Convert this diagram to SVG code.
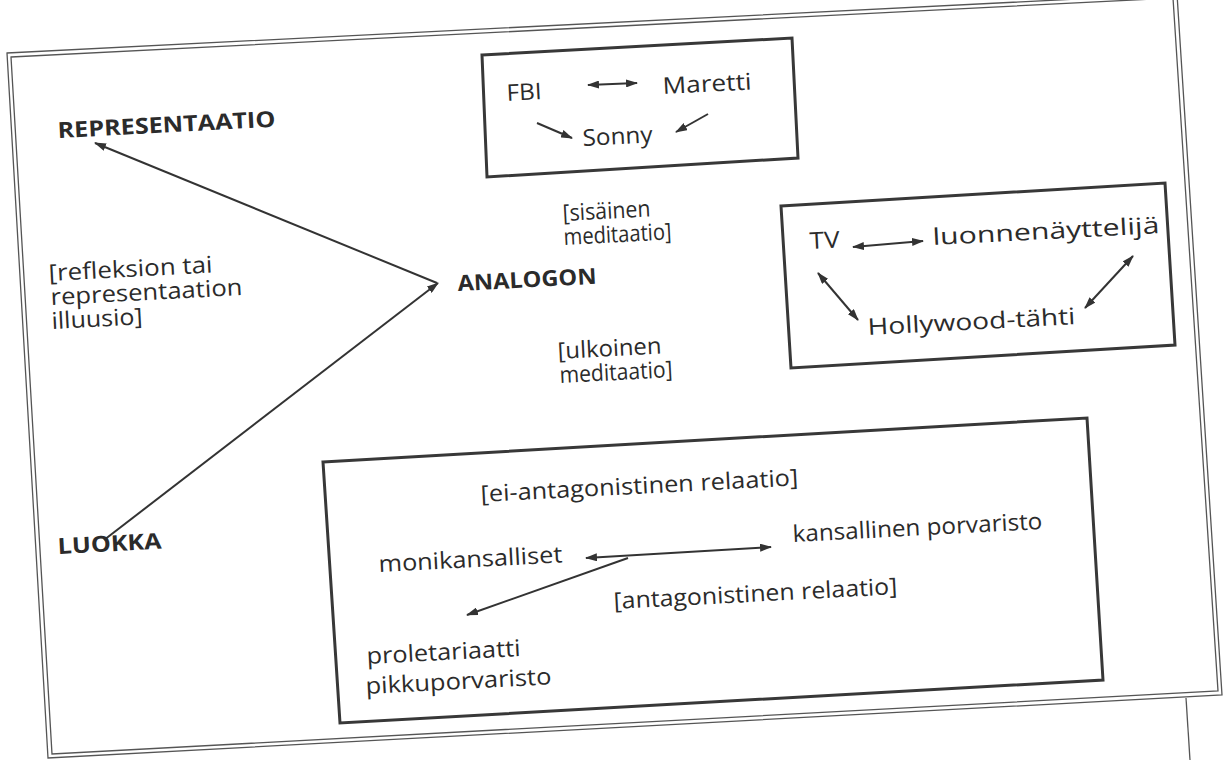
<svg xmlns="http://www.w3.org/2000/svg" width="1224" height="760" viewBox="0 0 1224 760">
<style>
.t{font-family:"Open Sans","DejaVu Sans",sans-serif;font-size:23px;fill:#2b2b2b}
.b{font-weight:bold;font-size:22px}
.box{fill:none;stroke:#383838;stroke-width:3}
.frame{fill:none;stroke:#555;stroke-width:1.3}
.c{fill:none;stroke:#333;stroke-width:2}
.s{marker-end:url(#ah)}
.d{marker-start:url(#ah);marker-end:url(#ah)}
</style>
<defs>
<marker id="ah" viewBox="0 0 12 8" refX="11" refY="4" markerWidth="12" markerHeight="8" markerUnits="userSpaceOnUse" orient="auto-start-reverse">
<path d="M0,0 L12,4 L0,8 z" fill="#333"/>
</marker>
</defs>
<rect width="1224" height="760" fill="#fff"/>
<g id="frame">
<polygon class="frame" points="7,53 1177,-6 1222,695 48,758"/>
<polygon class="frame" points="11,57 1173,-2 1218,691 52,754"/>
<line class="frame" x1="1186" y1="698" x2="1190" y2="760"/>
</g>
<g id="connectors">
<line class="c s" x1="437" y1="283" x2="95" y2="143"/>
<line class="c s" x1="104" y1="540" x2="438" y2="283"/>
<line class="c d" x1="588" y1="85" x2="637" y2="83"/>
<line class="c s" x1="537" y1="123" x2="572" y2="138"/>
<line class="c s" x1="708" y1="114" x2="676" y2="132"/>
<line class="c d" x1="853" y1="247" x2="923" y2="241"/>
<line class="c d" x1="818" y1="273" x2="858" y2="320"/>
<line class="c d" x1="1133" y1="256" x2="1085" y2="308"/>
<line class="c d" x1="586" y1="558" x2="771" y2="547"/>
<line class="c s" x1="628" y1="558" x2="467" y2="615"/>
</g>
<g id="representaatio"><text class="t b" x="58" y="138" textLength="218" lengthAdjust="spacingAndGlyphs" transform="rotate(-3 58 138)">REPRESENTAATIO</text></g>
<g id="analogon"><text class="t b" x="458" y="291" textLength="139" lengthAdjust="spacingAndGlyphs" transform="rotate(-3 458 291)">ANALOGON</text></g>
<g id="luokka"><text class="t b" x="58" y="554" textLength="104" lengthAdjust="spacingAndGlyphs" transform="rotate(-3 58 554)">LUOKKA</text></g>
<g id="refleksion">
<text class="t" x="49" y="281" textLength="164" lengthAdjust="spacingAndGlyphs" transform="rotate(-3 49 281)">[refleksion tai</text>
<text class="t" x="51" y="305" textLength="192" lengthAdjust="spacingAndGlyphs" transform="rotate(-3 51 305)">representaation</text>
<text class="t" x="52" y="329" textLength="91" lengthAdjust="spacingAndGlyphs" transform="rotate(-3 52 329)">illuusio]</text>
</g>
<g id="sisainen">
<text class="t" x="563" y="221" textLength="88" lengthAdjust="spacingAndGlyphs" transform="rotate(-3 563 221)">[sisäinen</text>
<text class="t" x="564" y="245" textLength="108" lengthAdjust="spacingAndGlyphs" transform="rotate(-3 564 245)">meditaatio]</text>
</g>
<g id="ulkoinen">
<text class="t" x="558" y="359" textLength="104" lengthAdjust="spacingAndGlyphs" transform="rotate(-3 558 359)">[ulkoinen</text>
<text class="t" x="560" y="383" textLength="113" lengthAdjust="spacingAndGlyphs" transform="rotate(-3 560 383)">meditaatio]</text>
</g>
<g id="box-fbi">
<polygon class="box" points="482,55 792,38 798,158 487,177"/>
<text class="t" x="507" y="101" textLength="35" lengthAdjust="spacingAndGlyphs" transform="rotate(-3 507 101)">FBI</text>
<text class="t" x="663" y="94" textLength="89" lengthAdjust="spacingAndGlyphs" transform="rotate(-3 663 94)">Maretti</text>
<text class="t" x="583" y="146" textLength="70" lengthAdjust="spacingAndGlyphs" transform="rotate(-3 583 146)">Sonny</text>
</g>
<g id="box-tv">
<polygon class="box" points="781,206 1165,183 1175,345 791,368"/>
<text class="t" x="810" y="249" textLength="30" lengthAdjust="spacingAndGlyphs" transform="rotate(-3 810 249)">TV</text>
<text class="t" x="933" y="245" textLength="227" lengthAdjust="spacingAndGlyphs" transform="rotate(-3 933 245)">luonnenäyttelijä</text>
<text class="t" x="868" y="335" textLength="208" lengthAdjust="spacingAndGlyphs" transform="rotate(-3 868 335)">Hollywood-tähti</text>
</g>
<g id="box-class">
<polygon class="box" points="323,462 1087,418 1103,680 340,723"/>
<text class="t" x="481" y="502" textLength="318" lengthAdjust="spacingAndGlyphs" transform="rotate(-3 481 502)">[ei-antagonistinen relaatio]</text>
<text class="t" x="379" y="572" textLength="184" lengthAdjust="spacingAndGlyphs" transform="rotate(-3 379 572)">monikansalliset</text>
<text class="t" x="793" y="542" textLength="250" lengthAdjust="spacingAndGlyphs" transform="rotate(-3 793 542)">kansallinen porvaristo</text>
<text class="t" x="614" y="609" textLength="284" lengthAdjust="spacingAndGlyphs" transform="rotate(-3 614 609)">[antagonistinen relaatio]</text>
<text class="t" x="367" y="664" textLength="154" lengthAdjust="spacingAndGlyphs" transform="rotate(-3 367 664)">proletariaatti</text>
<text class="t" x="366" y="694" textLength="186" lengthAdjust="spacingAndGlyphs" transform="rotate(-3 366 694)">pikkuporvaristo</text>
</g>
</svg>
